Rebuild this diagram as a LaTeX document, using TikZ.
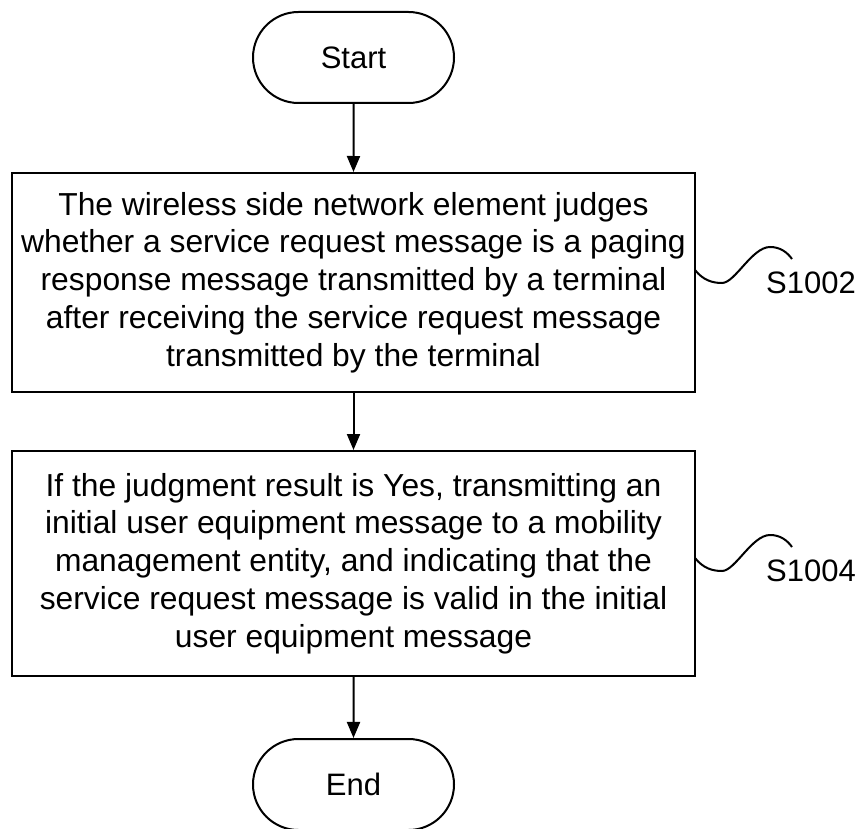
\documentclass[tikz,border=0pt]{standalone}
\usepackage{fontspec}
\setmainfont{Liberation Sans}
\usetikzlibrary{shapes.misc,arrows.meta}

\begin{document}
\begin{tikzpicture}[x=0.5pt,y=0.5pt,line width=1pt,
  font=\fontsize{15.5pt}{18.9pt}\selectfont,
  terminal/.style={rounded rectangle,draw,minimum width=100.5pt,minimum height=45.5pt,inner sep=0pt},
  stepbox/.style={rectangle,draw,minimum width=341.5pt,align=center,inner sep=0pt,
    font=\fontsize{15.9pt}{18.9pt}\selectfont},
  flow/.style={-{Triangle[length=8pt,width=6.5pt]}}]
\useasboundingbox (0,0) rectangle (862,-829);

\path (353.5,-57.5) node[terminal] (start) {Start};

\path (353.5,-282.5) node[stepbox,minimum height=109.5pt] (s1002) {The wireless side network element judges\\
whether a service request message is a paging\\
response message transmitted by a terminal\\
after receiving the service request message\\
transmitted by the terminal};
\draw[flow] (start) -- (s1002);

\path (353.5,-563.5) node[stepbox,minimum height=112.5pt] (s1004) {If the judgment result is Yes, transmitting an\\
initial user equipment message to a mobility\\
management entity, and indicating that the\\
service request message is valid in the initial\\
user equipment message};
\draw[flow] (s1002) -- (s1004);

\path (353.5,-784.5) node[terminal] (end) {End};
\draw[flow] (s1004) -- (end);

\path (811,-283) node (l1002) {S1002};
\coordinate (w1002) at (695,-270);
\draw (w1002) .. controls +(8,-10) and +(-10,0) .. ++(27,-13)
  .. controls +(13,0) and +(-18,0) .. ++(48,36)
  .. controls +(10,0) and +(-5,7) .. ++(22,-12);

\path (811,-571) node (l1004) {S1004};
\coordinate (w1004) at (695,-558);
\draw (w1004) .. controls +(8,-10) and +(-10,0) .. ++(27,-13)
  .. controls +(13,0) and +(-18,0) .. ++(48,36)
  .. controls +(10,0) and +(-5,7) .. ++(22,-12);
\end{tikzpicture}
\end{document}
